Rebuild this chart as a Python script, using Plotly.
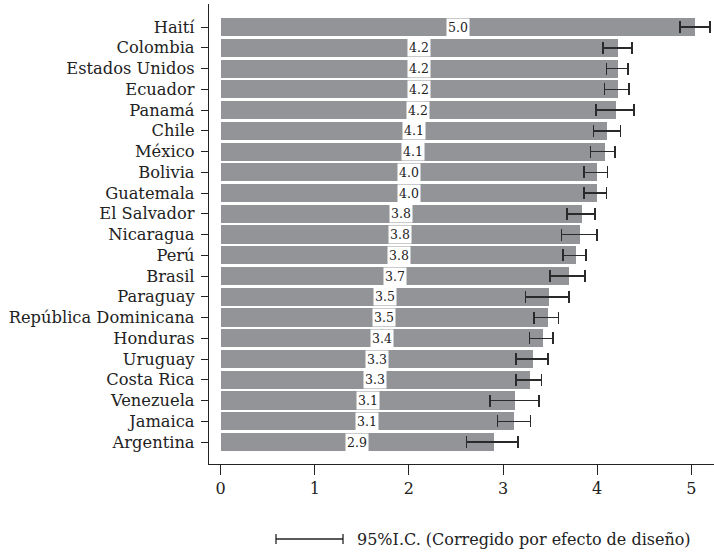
import plotly.graph_objects as go

countries = ["Haití", "Colombia", "Estados Unidos", "Ecuador", "Panamá", "Chile", "México",
             "Bolivia", "Guatemala", "El Salvador", "Nicaragua", "Perú", "Brasil", "Paraguay",
             "República Dominicana", "Honduras", "Uruguay", "Costa Rica", "Venezuela",
             "Jamaica", "Argentina"]
values = [5.04, 4.22, 4.22, 4.22, 4.20, 4.11, 4.08, 4.00, 4.00, 3.84, 3.82, 3.78, 3.70,
          3.49, 3.48, 3.42, 3.32, 3.29, 3.13, 3.12, 2.90]
ci_low = [4.88, 4.06, 4.10, 4.08, 3.99, 3.96, 3.93, 3.86, 3.86, 3.68, 3.62, 3.64, 3.50,
          3.24, 3.33, 3.28, 3.14, 3.14, 2.86, 2.94, 2.61]
ci_high = [5.20, 4.37, 4.33, 4.34, 4.39, 4.25, 4.19, 4.11, 4.10, 3.98, 4.00, 3.88, 3.87,
           3.70, 3.59, 3.53, 3.48, 3.41, 3.38, 3.29, 3.16]
value_labels = ["5.0", "4.2", "4.2", "4.2", "4.2", "4.1", "4.1", "4.0", "4.0", "3.8", "3.8",
                "3.8", "3.7", "3.5", "3.5", "3.4", "3.3", "3.3", "3.1", "3.1", "2.9"]
x_ticks = [0, 1, 2, 3, 4, 5]
legend_text = "95%I.C. (Corregido por efecto de diseño)"

FONT = "DejaVu Serif"
INK = "#222"

# plot bottom-up (Argentina at bottom)
cats = countries[::-1]
vals = values[::-1]
lo = ci_low[::-1]
hi = ci_high[::-1]
labs = value_labels[::-1]

fig = go.Figure()
fig.add_trace(go.Bar(
    x=vals, y=cats, orientation="h",
    marker=dict(color="#939498", line=dict(width=0)),
    width=0.87,
    error_x=dict(type="data", symmetric=False,
                 array=[h - v for h, v in zip(hi, vals)],
                 arrayminus=[v - l for v, l in zip(vals, lo)],
                 color="#2a2a2a", thickness=1.5, width=6),
    hoverinfo="skip",
))

L, R, T, B = 209, 714, 4, 464
def px(xp):
    return (xp - L) / (R - L)
def py(yp):
    return (B - yp) / (B - T)

annotations = []
for c, v, t in zip(cats, vals, labs):
    annotations.append(dict(x=v / 2, y=c, xref="x", yref="y", text=t, showarrow=False,
                            bgcolor="white", borderpad=1,
                            font=dict(family=FONT, size=12.5, color=INK)))
annotations.append(dict(x=px(355), y=py(539), xref="paper", yref="paper", text=legend_text,
                        showarrow=False, xanchor="left", yanchor="middle",
                        font=dict(family=FONT, size=16, color=INK)))

shapes = [
    dict(type="line", xref="paper", yref="paper", x0=px(276), x1=px(343), y0=py(539), y1=py(539),
         line=dict(color=INK, width=1.3)),
    dict(type="line", xref="paper", yref="paper", x0=px(276), x1=px(276), y0=py(534), y1=py(544),
         line=dict(color=INK, width=1.3)),
    dict(type="line", xref="paper", yref="paper", x0=px(343), x1=px(343), y0=py(534), y1=py(544),
         line=dict(color=INK, width=1.3)),
]

fig.update_layout(
    width=714, height=554,
    margin=dict(l=L, r=714 - R, t=T, b=554 - B),
    paper_bgcolor="white", plot_bgcolor="white",
    showlegend=False, bargap=0,
    font=dict(family=FONT, size=16, color=INK),
    annotations=annotations, shapes=shapes,
    xaxis=dict(range=[-0.124, 5.242], tickvals=x_ticks, showgrid=False, zeroline=False,
               showline=True, linecolor=INK, linewidth=1.3, ticks="outside", ticklen=10,
               tickcolor=INK, tickwidth=1.3, tickfont=dict(family=FONT, size=16, color=INK),
               fixedrange=True),
    yaxis=dict(range=[-1.06, 21.11], type="category", showgrid=False, zeroline=False,
               showline=True, linecolor=INK, linewidth=1.3, ticks="outside", ticklen=7,
               ticklabelstandoff=3,
               tickcolor=INK, tickwidth=1.3, tickfont=dict(family=FONT, size=16.3, color=INK),
               fixedrange=True),
)

fig.write_html("out.html", config={"displayModeBar": False},
               post_script="document.body.style.margin='0';")
